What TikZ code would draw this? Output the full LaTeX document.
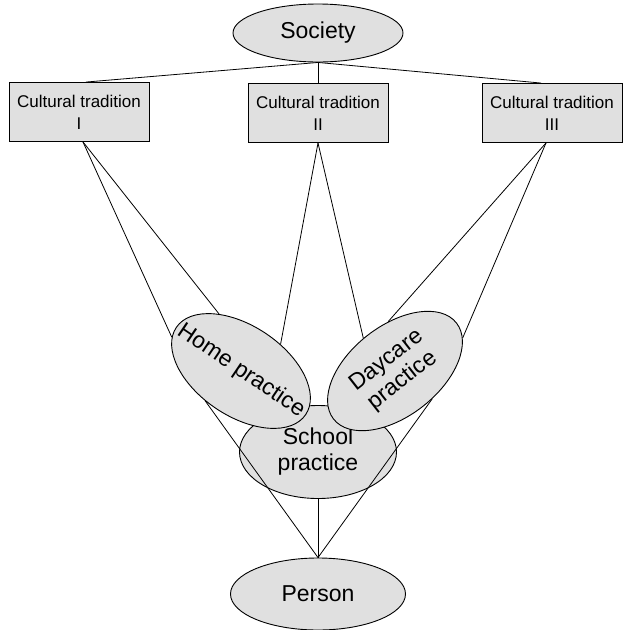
\documentclass[tikz,border=0pt]{standalone}
\usepackage{fontspec}
\setmainfont{Liberation Sans}
\usetikzlibrary{shapes.geometric}

\begin{document}
\begin{tikzpicture}[x=1pt, y=-1pt,
	every node/.style={inner sep=0pt},
	tradition/.style={draw, line width=0.9pt, fill=black!12, minimum width=140pt, minimum height=59pt, align=center, font=\fontsize{17}{22}\selectfont},
	practice/.style={draw, line width=0.9pt, ellipse, fill=black!12, align=center, font=\fontsize{23}{26}\selectfont},
	link/.style={line width=0.8pt}]
	\useasboundingbox (0,0) rectangle (622,630);
	
	% 社会与三种文化传统
	\node[practice, minimum width=170pt, minimum height=58pt] (society) at (318,33) {Society};
	\node[tradition] (tradI) at (79,112) {Cultural tradition\\I};
	\node[tradition] (tradII) at (318,113) {Cultural tradition\\II};
	\node[tradition] (tradIII) at (552,113) {Cultural tradition\\III};
	
	% 三种实践 (学校在下层, 家庭与托儿所盖在上面)
	\node[practice, minimum width=157pt, minimum height=93pt] (school) at (318,452) {School\\practice};
	\node[practice, minimum width=156pt, minimum height=90pt, rotate=-34] (home) at (241,371) {};
	\node[font=\fontsize{23}{26}\selectfont, rotate=-34] (hometext) at (home.center) {Home practice};
	\node[practice, minimum width=156pt, minimum height=90pt, rotate=38] (daycare) at (395,371) {Daycare\\practice};
	
	% 个人
	\node[practice, minimum width=175pt, minimum height=72pt] (person) at (318,594) {Person};
	
	% 社会 -> 文化传统
	\draw[link] (society.south) -- ([xshift=7pt]tradI.north);
	\draw[link] (society.south) -- (tradII.north);
	\draw[link] (society.south) -- ([xshift=-11pt]tradIII.north);
	
	% 文化传统 -> 实践
	\draw[link] ([xshift=4pt]tradI.south) -- (home.145);
	\draw[link] ([xshift=4pt]tradI.south) -- (home.188);
	\draw[link] (tradII.south) -- (home.68);
	\draw[link] (tradII.south) -- (daycare.96);
	\draw[link] ([xshift=-6pt]tradIII.south) -- (daycare.60);
	\draw[link] ([xshift=-6pt]tradIII.south) -- (daycare.348);
	
	% 实践 -> 个人
	\draw[link] (person.north) -- (home.254);
	\draw[link] (person.north) -- (school.south);
	\draw[link] (person.north) -- (daycare.285);
	
\end{tikzpicture}
\end{document}
